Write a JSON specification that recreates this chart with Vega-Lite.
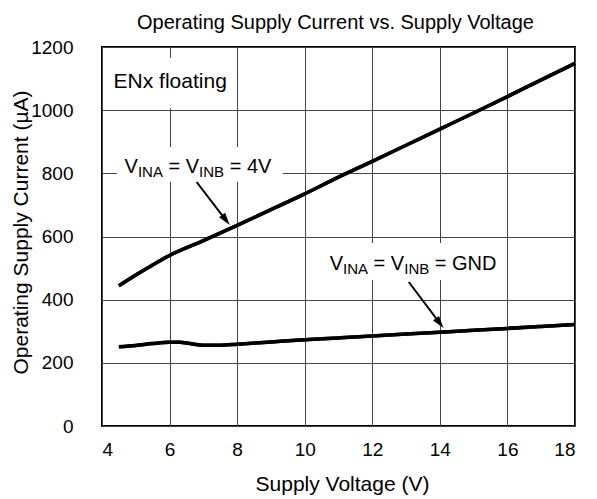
{
  "$schema": "https://vega.github.io/schema/vega-lite/v6.json",
  "width": 473,
  "height": 379,
  "autosize": {"type": "none"},
  "padding": {"left": 102, "top": 47, "right": 22, "bottom": 73},
  "background": "white",
  "config": {
    "font": "Liberation Sans",
    "view": {"stroke": "black", "strokeWidth": 2},
    "axis": {
      "labelFont": "Liberation Sans",
      "titleFont": "Liberation Sans",
      "labelFontSize": 19,
      "labelColor": "black",
      "titleFontSize": 21,
      "titleFontWeight": "normal",
      "titleColor": "black",
      "ticks": false,
      "domain": false,
      "grid": true,
      "gridColor": "#444444",
      "gridWidth": 1,
      "gridOpacity": 1
    }
  },
  "title": {
    "text": "Operating Supply Current vs. Supply Voltage",
    "fontSize": 20,
    "fontWeight": "normal",
    "color": "black",
    "font": "Liberation Sans",
    "anchor": "middle",
    "frame": "group",
    "baseline": "alphabetic",
    "offset": -11,
    "dx": -3
  },
  "datasets": {
    "curves": [
      {"v": 4.5, "i": 444, "c": "VINA = VINB = 4V"},
      {"v": 5, "i": 478, "c": "VINA = VINB = 4V"},
      {"v": 5.5, "i": 510, "c": "VINA = VINB = 4V"},
      {"v": 6, "i": 540, "c": "VINA = VINB = 4V"},
      {"v": 7, "i": 587, "c": "VINA = VINB = 4V"},
      {"v": 8, "i": 635, "c": "VINA = VINB = 4V"},
      {"v": 9, "i": 685, "c": "VINA = VINB = 4V"},
      {"v": 10, "i": 735, "c": "VINA = VINB = 4V"},
      {"v": 11, "i": 788, "c": "VINA = VINB = 4V"},
      {"v": 12, "i": 838, "c": "VINA = VINB = 4V"},
      {"v": 13, "i": 889, "c": "VINA = VINB = 4V"},
      {"v": 14, "i": 940, "c": "VINA = VINB = 4V"},
      {"v": 15, "i": 991, "c": "VINA = VINB = 4V"},
      {"v": 16, "i": 1043, "c": "VINA = VINB = 4V"},
      {"v": 17, "i": 1096, "c": "VINA = VINB = 4V"},
      {"v": 18, "i": 1148, "c": "VINA = VINB = 4V"},
      {"v": 4.5, "i": 251, "c": "VINA = VINB = GND"},
      {"v": 5, "i": 255, "c": "VINA = VINB = GND"},
      {"v": 5.5, "i": 261, "c": "VINA = VINB = GND"},
      {"v": 6, "i": 265, "c": "VINA = VINB = GND"},
      {"v": 6.3, "i": 265, "c": "VINA = VINB = GND"},
      {"v": 6.6, "i": 261, "c": "VINA = VINB = GND"},
      {"v": 7, "i": 256, "c": "VINA = VINB = GND"},
      {"v": 7.5, "i": 256, "c": "VINA = VINB = GND"},
      {"v": 8, "i": 259, "c": "VINA = VINB = GND"},
      {"v": 9, "i": 266, "c": "VINA = VINB = GND"},
      {"v": 10, "i": 273, "c": "VINA = VINB = GND"},
      {"v": 11, "i": 279, "c": "VINA = VINB = GND"},
      {"v": 12, "i": 285, "c": "VINA = VINB = GND"},
      {"v": 13, "i": 291, "c": "VINA = VINB = GND"},
      {"v": 14, "i": 297, "c": "VINA = VINB = GND"},
      {"v": 15, "i": 303, "c": "VINA = VINB = GND"},
      {"v": 16, "i": 309, "c": "VINA = VINB = GND"},
      {"v": 17, "i": 315, "c": "VINA = VINB = GND"},
      {"v": 18, "i": 321, "c": "VINA = VINB = GND"}
    ]
  },
  "layer": [
    {
      "data": {"name": "curves"},
      "mark": {"type": "line", "color": "black", "strokeWidth": 3.5, "interpolate": "monotone"},
      "encoding": {
        "x": {
          "field": "v", "type": "quantitative",
          "scale": {"domain": [4, 18], "nice": false, "zero": false},
          "axis": {
            "title": "Supply Voltage (V)",
            "values": [4, 6, 8, 10, 12, 14, 16, 18],
            "format": "d",
            "labelPadding": 14,
            "titleBaseline": "alphabetic",
            "titleY": 64,
            "titleX": 240
          }
        },
        "y": {
          "field": "i", "type": "quantitative",
          "scale": {"domain": [0, 1200], "nice": false},
          "axis": {
            "title": "Operating Supply Current (µA)",
            "values": [0, 200, 400, 600, 800, 1000, 1200],
            "format": "d",
            "labelPadding": 29,
            "titleBaseline": "alphabetic",
            "titleAngle": -90,
            "titleX": -75,
            "titleY": 185,
            "titleAlign": "center"
          }
        },
        "detail": {"field": "c"}
      }
    },
    {
      "data": {"values": [{}]},
      "mark": {"type": "rect", "fill": "white"},
      "encoding": {"x": {"datum": 4.03}, "x2": {"datum": 7.87}, "y": {"datum": 1006}, "y2": {"datum": 1165}}
    },
    {
      "data": {"values": [{}]},
      "mark": {"type": "rect", "fill": "white"},
      "encoding": {"x": {"datum": 4.44}, "x2": {"datum": 9.35}, "y": {"datum": 773}, "y2": {"datum": 883}}
    },
    {
      "data": {"values": [{}]},
      "mark": {"type": "rect", "fill": "white"},
      "encoding": {"x": {"datum": 10.68}, "x2": {"datum": 15.86}, "y": {"datum": 462}, "y2": {"datum": 579.5}}
    },
    {
      "data": {"name": "curves"},
      "mark": {"type": "line", "color": "black", "strokeWidth": 3.5, "interpolate": "monotone"},
      "encoding": {
        "x": {"field": "v", "type": "quantitative"},
        "y": {"field": "i", "type": "quantitative"},
        "detail": {"field": "c"}
      }
    },
    {
      "data": {"values": [{}]},
      "mark": {"type": "text", "text": "ENx floating", "align": "left", "baseline": "alphabetic", "fontSize": 21, "color": "black"},
      "encoding": {"x": {"datum": 4.343}, "y": {"datum": 1069}}
    },
    {
      "data": {"values": [{}]},
      "mark": {"type": "text", "text": "V", "align": "left", "baseline": "alphabetic", "fontSize": 20, "color": "black"},
      "encoding": {"x": {"datum": 4.669}, "y": {"datum": 801}}
    },
    {
      "data": {"values": [{}]},
      "mark": {"type": "text", "text": "INA", "align": "left", "baseline": "alphabetic", "fontSize": 15, "color": "black", "dx": 13.3, "dy": 4},
      "encoding": {"x": {"datum": 4.669}, "y": {"datum": 801}}
    },
    {
      "data": {"values": [{}]},
      "mark": {"type": "text", "text": "= V", "align": "left", "baseline": "alphabetic", "fontSize": 20, "color": "black", "dx": 43.9},
      "encoding": {"x": {"datum": 4.669}, "y": {"datum": 801}}
    },
    {
      "data": {"values": [{}]},
      "mark": {"type": "text", "text": "INB", "align": "left", "baseline": "alphabetic", "fontSize": 15, "color": "black", "dx": 74.5, "dy": 4},
      "encoding": {"x": {"datum": 4.669}, "y": {"datum": 801}}
    },
    {
      "data": {"values": [{}]},
      "mark": {"type": "text", "text": "= 4V", "align": "left", "baseline": "alphabetic", "fontSize": 20, "color": "black", "dx": 105.1},
      "encoding": {"x": {"datum": 4.669}, "y": {"datum": 801}}
    },
    {
      "data": {"values": [{}]},
      "mark": {"type": "text", "text": "V", "align": "left", "baseline": "alphabetic", "fontSize": 20, "color": "black"},
      "encoding": {"x": {"datum": 10.74}, "y": {"datum": 494}}
    },
    {
      "data": {"values": [{}]},
      "mark": {"type": "text", "text": "INA", "align": "left", "baseline": "alphabetic", "fontSize": 15, "color": "black", "dx": 13.3, "dy": 4},
      "encoding": {"x": {"datum": 10.74}, "y": {"datum": 494}}
    },
    {
      "data": {"values": [{}]},
      "mark": {"type": "text", "text": "= V", "align": "left", "baseline": "alphabetic", "fontSize": 20, "color": "black", "dx": 43.9},
      "encoding": {"x": {"datum": 10.74}, "y": {"datum": 494}}
    },
    {
      "data": {"values": [{}]},
      "mark": {"type": "text", "text": "INB", "align": "left", "baseline": "alphabetic", "fontSize": 15, "color": "black", "dx": 74.5, "dy": 4},
      "encoding": {"x": {"datum": 10.74}, "y": {"datum": 494}}
    },
    {
      "data": {"values": [{}]},
      "mark": {"type": "text", "text": "= GND", "align": "left", "baseline": "alphabetic", "fontSize": 20, "color": "black", "dx": 105.1},
      "encoding": {"x": {"datum": 10.74}, "y": {"datum": 494}}
    },
    {
      "data": {"values": [{}]},
      "mark": {"type": "rule", "color": "black", "strokeWidth": 2},
      "encoding": {"x": {"datum": 6.8}, "y": {"datum": 772.6}, "x2": {"datum": 7.7}, "y2": {"datum": 647}}
    },
    {
      "data": {"values": [{}]},
      "mark": {"type": "point", "shape": "M0,0L-0.3,1L0.3,1Z", "filled": true, "color": "black", "opacity": 1, "size": 625, "angle": 142.5, "strokeWidth": 0},
      "encoding": {"x": {"datum": 7.78}, "y": {"datum": 636.5}}
    },
    {
      "data": {"values": [{}]},
      "mark": {"type": "rule", "color": "black", "strokeWidth": 2},
      "encoding": {"x": {"datum": 13.08}, "y": {"datum": 456}, "x2": {"datum": 14.03}, "y2": {"datum": 321}}
    },
    {
      "data": {"values": [{}]},
      "mark": {"type": "point", "shape": "M0,0L-0.3,1L0.3,1Z", "filled": true, "color": "black", "opacity": 1, "size": 625, "angle": 142.7, "strokeWidth": 0},
      "encoding": {"x": {"datum": 14.11}, "y": {"datum": 310}}
    }
  ]
}
